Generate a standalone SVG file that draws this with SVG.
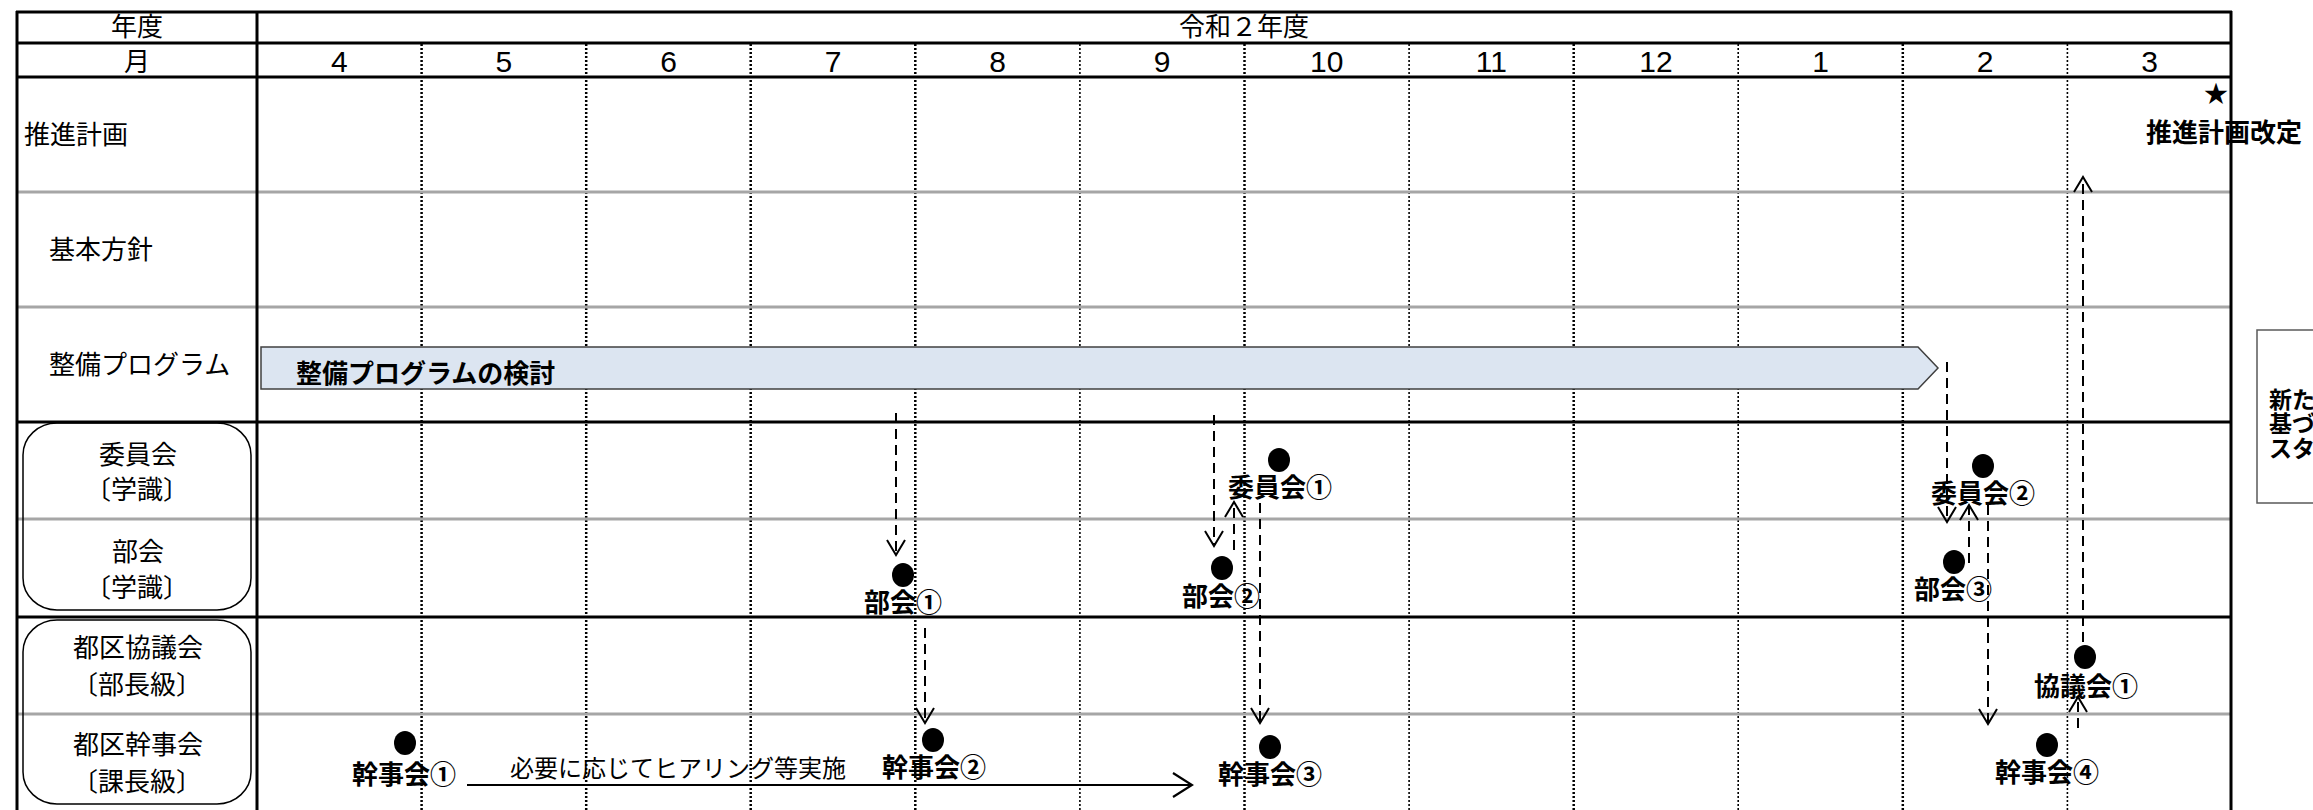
<svg xmlns="http://www.w3.org/2000/svg" width="2313" height="810" viewBox="0 0 2313 810">
<style>
text { font-family: "Noto Sans CJK JP", "Noto Sans", sans-serif; font-size: 26px; fill: #000; }
.c { text-anchor: middle; }
.b { font-weight: bold; }
.num { font-family: "Liberation Sans", "Noto Sans CJK JP", sans-serif; font-size: 30px; text-anchor: middle; }
.note { font-size: 23px; font-weight: bold; }
.thick { stroke: #000; stroke-width: 3; fill: none; }
.gray { stroke: #a6a6a6; stroke-width: 3; fill: none; }
.dotA { stroke: #000; stroke-width: 2.5; stroke-dasharray: 2 2; }
.dotB { stroke: #000; stroke-width: 1.6; stroke-dasharray: 2 2; }
.dash { stroke: #000; stroke-width: 2; stroke-dasharray: 10 6; fill: none; marker-end: url(#ah); }
.solid { stroke: #000; stroke-width: 2; fill: none; marker-end: url(#ahL); }
.dot { fill: #000; }
.rbox { fill: none; stroke: #000; stroke-width: 1.5; }
</style>
<defs>
<marker id="ah" markerUnits="userSpaceOnUse" markerWidth="18" markerHeight="20" viewBox="0 0 18 20" refX="16" refY="10" orient="auto">
<path d="M1,1 L16,10 L1,19" fill="none" stroke="#000" stroke-width="2" stroke-dasharray="none"/>
</marker>
<marker id="ahL" markerUnits="userSpaceOnUse" markerWidth="22" markerHeight="26" viewBox="0 0 22 26" refX="20" refY="13" orient="auto">
<path d="M1,1 L20,13 L1,25" fill="none" stroke="#000" stroke-width="2.2"/>
</marker>
</defs>
<rect x="0" y="0" width="2313" height="810" fill="#fff"/>

<g id="grid">
<g id="month-dividers">
<line class="dotA" x1="421.6" y1="44" x2="421.6" y2="810"/>
<line class="dotA" x1="586.2" y1="44" x2="586.2" y2="810"/>
<line class="dotA" x1="750.7" y1="44" x2="750.7" y2="810"/>
<line class="dotA" x1="915.3" y1="44" x2="915.3" y2="810"/>
<line class="dotB" x1="1079.9" y1="44" x2="1079.9" y2="810"/>
<line class="dotA" x1="1244.5" y1="44" x2="1244.5" y2="810"/>
<line class="dotB" x1="1409.1" y1="44" x2="1409.1" y2="810"/>
<line class="dotA" x1="1573.7" y1="44" x2="1573.7" y2="810"/>
<line class="dotB" x1="1738.2" y1="44" x2="1738.2" y2="810"/>
<line class="dotA" x1="1902.8" y1="44" x2="1902.8" y2="810"/>
<line class="dotB" x1="2067.4" y1="44" x2="2067.4" y2="810"/>
</g>
<line class="gray" x1="16" y1="192" x2="2232" y2="192"/>
<line class="gray" x1="16" y1="307" x2="2232" y2="307"/>
<line class="gray" x1="16" y1="519" x2="2232" y2="519"/>
<line class="gray" x1="16" y1="714" x2="2232" y2="714"/>
<line class="thick" x1="16" y1="12" x2="2232" y2="12"/>
<line class="thick" x1="16" y1="43" x2="2232" y2="43"/>
<line class="thick" x1="16" y1="77" x2="2232" y2="77"/>
<line class="thick" x1="16" y1="422" x2="2232" y2="422"/>
<line class="thick" x1="16" y1="617" x2="2232" y2="617"/>
<line class="thick" x1="17" y1="11" x2="17" y2="810"/>
<line class="thick" x1="257" y1="11" x2="257" y2="810"/>
<line class="thick" x1="2231" y1="11" x2="2231" y2="810"/>
</g>

<g id="header">
<text class="c" x="137" y="36">年度</text>
<text class="c" x="1244" y="36">令和２年度</text>
<text class="c" x="137" y="71">月</text>
<text class="num" x="339.3" y="72">4</text>
<text class="num" x="503.9" y="72">5</text>
<text class="num" x="668.5" y="72">6</text>
<text class="num" x="833.1" y="72">7</text>
<text class="num" x="997.6" y="72">8</text>
<text class="num" x="1162.2" y="72">9</text>
<text class="num" x="1326.8" y="72">10</text>
<text class="num" x="1491.4" y="72">11</text>
<text class="num" x="1656" y="72">12</text>
<text class="num" x="1820.6" y="72">1</text>
<text class="num" x="1985.2" y="72">2</text>
<text class="num" x="2149.7" y="72">3</text>
</g>

<g id="row-labels">
<text x="24" y="144">推進計画</text>
<text x="49" y="259">基本方針</text>
<text x="49" y="374">整備プログラム</text>
</g>
<g id="label-gakushiki">
<rect class="rbox" x="23" y="423" width="228" height="187" rx="34" ry="32"/>
<text class="c" x="138" y="464">委員会</text>
<text class="c" x="137" y="499">〔学識〕</text>
<text class="c" x="138" y="561">部会</text>
<text class="c" x="137" y="597">〔学識〕</text>
</g>
<g id="label-toku">
<rect class="rbox" x="23" y="620" width="228" height="184" rx="34" ry="32"/>
<text class="c" x="138" y="657">都区協議会</text>
<text class="c" x="137" y="694">〔部長級〕</text>
<text class="c" x="138" y="754">都区幹事会</text>
<text class="c" x="137" y="791">〔課長級〕</text>
</g>

<g id="program-bar">
<polygon points="261,347 1918,347 1938,368 1918,389 261,389" fill="#dce5f1" stroke="#404040" stroke-width="1.5"/>
<text class="b" x="296" y="383">整備プログラムの検討</text>
</g>

<g id="plan-revision">
<text class="c" x="2216" y="102" style="font-size:24px">★</text>
<text class="c b" x="2224" y="142">推進計画改定</text>
</g>

<g id="side-note">
<rect x="2257" y="330" width="70" height="173" fill="#fff" stroke="#595959" stroke-width="1.5"/>
<text class="note"><tspan x="2269" y="408">新た</tspan><tspan x="2269" y="432">基づ</tspan><tspan x="2269" y="457">スタ</tspan></text>
</g>

<g id="connectors">
<line class="dash" x1="896" y1="413" x2="896" y2="555"/>
<line class="dash" x1="1214" y1="415" x2="1214" y2="546"/>
<line class="dash" x1="1234" y1="550" x2="1234" y2="502"/>
<line class="dash" x1="1260" y1="503" x2="1260" y2="723"/>
<line class="dash" x1="925" y1="628" x2="925" y2="723"/>
<line class="dash" x1="1947" y1="362" x2="1947" y2="522"/>
<line class="dash" x1="1969" y1="563" x2="1969" y2="505"/>
<line class="dash" x1="1988" y1="505" x2="1988" y2="724"/>
<line class="dash" x1="2083" y1="642" x2="2083" y2="177"/>
<line class="dash" x1="2078" y1="728" x2="2078" y2="697"/>
<line class="solid" x1="467" y1="785" x2="1192" y2="785"/>
</g>

<g id="hearing-note">
<text x="510" y="777" style="font-size:24px">必要に応じてヒアリング等実施</text>
</g>

<g id="kanjikai1"><ellipse class="dot" cx="405" cy="743" rx="11" ry="12"/><text class="c b" x="404" y="784">幹事会①</text></g>
<g id="bukai1"><ellipse class="dot" cx="903" cy="575" rx="11" ry="12"/><text class="c b" x="903" y="612">部会①</text></g>
<g id="bukai2"><ellipse class="dot" cx="1222" cy="568" rx="11" ry="12"/><text class="c b" x="1221" y="606">部会②</text></g>
<g id="iinkai1"><ellipse class="dot" cx="1279" cy="460" rx="11" ry="12"/><text class="c b" x="1280" y="497">委員会①</text></g>
<g id="kanjikai2"><ellipse class="dot" cx="933" cy="740" rx="11" ry="12"/><text class="c b" x="934" y="777">幹事会②</text></g>
<g id="kanjikai3"><ellipse class="dot" cx="1270" cy="747" rx="11" ry="12"/><text class="c b" x="1270" y="784">幹事会③</text></g>
<g id="iinkai2"><ellipse class="dot" cx="1983" cy="466" rx="11" ry="12"/><text class="c b" x="1983" y="503">委員会②</text></g>
<g id="bukai3"><ellipse class="dot" cx="1954" cy="562" rx="11" ry="12"/><text class="c b" x="1953" y="599">部会③</text></g>
<g id="kyogikai1"><ellipse class="dot" cx="2085" cy="657" rx="11" ry="12"/><text class="c b" x="2086" y="696">協議会①</text></g>
<g id="kanjikai4"><ellipse class="dot" cx="2047" cy="745" rx="11" ry="12"/><text class="c b" x="2047" y="782">幹事会④</text></g>
</svg>
